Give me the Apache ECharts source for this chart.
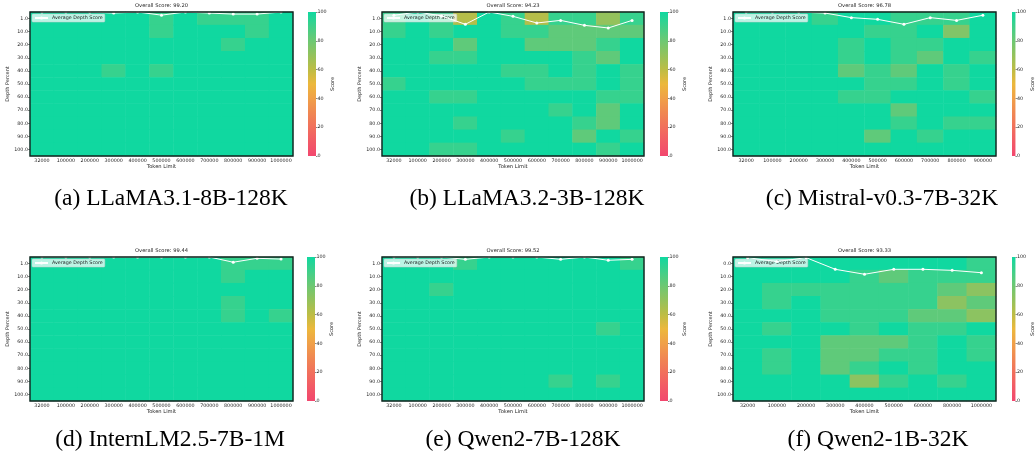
<!DOCTYPE html>
<html><head><meta charset="utf-8">
<script src="https://cdn.jsdelivr.net/npm/echarts@6/dist/echarts.min.js"></script>
<style>html,body{margin:0;padding:0;background:#fff}#c{width:1036px;height:454px}</style>
</head><body><div id="c"></div><script>
// ---------- DATA ----------
const tokens11 = ['32000','100000','200000','300000','400000','500000','600000','700000','800000','900000','1000000'];
const tokens10 = ['32000','100000','200000','300000','400000','500000','600000','700000','800000','900000'];
const tokens9  = ['32000','100000','200000','300000','400000','500000','600000','800000','1000000'];
const depth1   = ['1.0','10.0','20.0','30.0','40.0','50.0','60.0','70.0','80.0','90.0','100.0'];
const depth0   = ['0.0','10.0','20.0','30.0','40.0','50.0','60.0','70.0','80.0','90.0','100.0'];
const colorbarTicks = [0,20,40,60,80,100];

const scoresA = [
 [100,100,100,100,100,92,100,92,92,92,100],
 [100,100,100,100,100,92,100,100,100,92,100],
 [100,100,100,100,100,100,100,100,92,100,100],
 [100,100,100,100,100,100,100,100,100,100,100],
 [100,100,100,92,100,92,100,100,100,100,100],
 [100,100,100,100,100,100,100,100,100,100,100],
 [100,100,100,100,100,100,100,100,100,100,100],
 [100,100,100,100,100,100,100,100,100,100,100],
 [100,100,100,100,100,100,100,100,100,100,100],
 [100,100,100,100,100,100,100,100,100,100,100],
 [100,100,100,100,100,100,100,100,100,100,100]
];
const avgA = [100,100,100,99.2,100,97.6,100,99.2,98.4,98.4,100];

const scoresB = [
 [92,100,92,62,100,92,62,92,92,70,92],
 [92,100,92,100,100,92,92,83,83,83,83],
 [100,100,100,83,100,100,83,83,83,92,100],
 [100,100,92,92,100,100,100,100,92,83,100],
 [100,100,100,100,100,92,92,100,92,100,92],
 [92,100,100,100,100,100,92,92,92,100,92],
 [100,100,92,92,100,100,100,100,100,92,92],
 [100,100,100,100,100,100,100,92,100,83,100],
 [100,100,100,92,100,100,100,100,92,83,100],
 [100,100,100,100,100,92,100,100,83,100,92],
 [100,100,92,92,100,100,100,100,100,92,100]
];
const avgB = [97.5,100,97,90.6,100,96.7,91.6,93.6,89.8,87.8,93.6];

const scoresC = [
 [100,100,100,92,100,100,92,92,92,100],
 [100,100,100,100,100,92,92,100,75,100],
 [100,100,100,100,92,100,92,92,100,100],
 [100,100,100,100,92,100,92,83,100,92],
 [100,100,100,100,83,92,83,100,92,100],
 [100,100,100,100,100,92,92,100,92,100],
 [100,100,100,100,92,92,100,100,100,92],
 [100,100,100,100,100,100,83,100,100,100],
 [100,100,100,100,100,100,92,100,92,92],
 [100,100,100,100,100,83,100,92,100,100],
 [100,100,100,100,100,100,100,100,100,100]
];
const avgC = [100,100,100,99.2,95.7,94.4,90.6,95.7,93.6,97.5];

const scoresD = [
 [100,100,100,100,100,100,100,100,92,92,92],
 [100,100,100,100,100,100,100,100,92,100,100],
 [100,100,100,100,100,100,100,100,100,100,100],
 [100,100,100,100,100,100,100,100,92,100,100],
 [100,100,100,100,100,100,100,100,92,100,92],
 [100,100,100,100,100,100,100,100,100,100,100],
 [100,100,100,100,100,100,100,100,100,100,100],
 [100,100,100,100,100,100,100,100,100,100,100],
 [100,100,100,100,100,100,100,100,100,100,100],
 [100,100,100,100,100,100,100,100,100,100,100],
 [100,100,100,100,100,100,100,100,100,100,100]
];
const avgD = [100,100,100,100,100,100,100,100,96,99,98.4];

const scoresE = [
 [100,100,100,92,100,100,100,100,100,100,92],
 [100,100,100,100,100,100,100,100,100,100,100],
 [100,100,92,100,100,100,100,100,100,100,100],
 [100,100,100,100,100,100,100,100,100,100,100],
 [100,100,100,100,100,100,100,100,100,100,100],
 [100,100,100,100,100,100,100,100,100,92,100],
 [100,100,100,100,100,100,100,100,100,100,100],
 [100,100,100,100,100,100,100,100,100,100,100],
 [100,100,100,100,100,100,100,100,100,100,100],
 [100,100,100,100,100,100,100,92,100,92,100],
 [100,100,100,100,100,100,100,100,100,100,100]
];
const avgE = [100,100,100,98.2,100,100,100,98.2,100,97.5,98.2];

const scoresF = [
 [100,100,100,100,100,100,100,100,92],
 [100,100,100,100,92,83,92,92,92],
 [100,92,92,92,92,92,92,83,72],
 [100,92,100,92,92,92,92,72,83],
 [100,100,100,92,92,92,83,83,72],
 [100,92,100,100,92,100,92,92,100],
 [100,100,100,83,83,83,92,100,92],
 [100,92,100,83,83,92,92,100,92],
 [100,92,100,83,92,100,92,100,100],
 [100,100,100,100,72,92,100,92,100],
 [100,100,100,100,100,100,100,100,100]
];
const avgF = [99.5,96.5,99.5,90.6,86.8,90.6,90.6,89.8,88];

const overallScores = ['99.20','94.23','96.78','99.44','99.52','93.33'];
const captions = ['(a) LLaMA3.1-8B-128K','(b) LLaMA3.2-3B-128K','(c) Mistral-v0.3-7B-32K','(d) InternLM2.5-7B-1M','(e) Qwen2-7B-128K','(f) Qwen2-1B-32K'];
const cmap = ['#f2476e','#f25a66','#f1705c','#f08752','#f0a048','#ecb83c','#bdbd45','#94c25c','#6dc873','#3fd08a','#10d8a0'];

const panels = [
 {cols: tokens11, depth: depth1, scores: scoresA, avg: avgA},
 {cols: tokens11, depth: depth1, scores: scoresB, avg: avgB},
 {cols: tokens10, depth: depth1, scores: scoresC, avg: avgC},
 {cols: tokens11, depth: depth1, scores: scoresD, avg: avgD},
 {cols: tokens11, depth: depth1, scores: scoresE, avg: avgE},
 {cols: tokens9,  depth: depth0, scores: scoresF, avg: avgF}
];

// ---------- LAYOUT ----------
const layout = [
 {left:30,  top:12,  width:263, height:144, cb:308, cap:171, capTop:187},
 {left:382, top:12,  width:262, height:144, cb:660, cap:527, capTop:187},
 {left:733, top:12,  width:263, height:144, cb:1012, cap:882, capTop:187},
 {left:30,  top:257, width:263, height:144, cb:307, cap:170, capTop:428},
 {left:382, top:257, width:262, height:144, cb:660, cap:523, capTop:428},
 {left:733, top:257, width:263, height:144, cb:1012, cap:878, capTop:428}
];

const FONT = 'DejaVu Sans';
const TXT = '#1e1e1e';
const grid = [], xAxis = [], yAxis = [], series = [], title = [], legend = [];
const heatIdx = [];
const tick = {show:true, alignWithLabel:true, length:2, lineStyle:{color:'#333', width:0.6}};
const lab = {fontSize:4.8, color:TXT, fontFamily:FONT, margin:2};

panels.forEach((p, i) => {
  const L = layout[i];
  grid.push({left:L.left, top:L.top, width:L.width, height:L.height, show:true,
    borderColor:'#15201d', borderWidth:1.4, backgroundColor:'transparent', z:10});
  grid.push({left:L.cb, top:L.top, width:8, height:L.height, show:false});
  const g = i*2;
  const xi = xAxis.length, yi = yAxis.length;
  xAxis.push({type:'category', gridIndex:g, data:p.cols, axisLine:{show:false}, axisTick:tick,
    axisLabel:Object.assign({interval:0}, lab), name:'Token Limit', nameLocation:'middle', nameGap:8.5,
    nameTextStyle:{fontSize:5.2, color:TXT, fontFamily:FONT}, splitLine:{show:false}});
  yAxis.push({type:'category', gridIndex:g, data:p.depth, inverse:true, axisLine:{show:false}, axisTick:tick,
    axisLabel:Object.assign({interval:0}, lab), name:'Depth Percent', nameLocation:'middle', nameGap:16,
    nameTextStyle:{fontSize:5, color:TXT, fontFamily:FONT}, splitLine:{show:false}});
  xAxis.push({type:'category', gridIndex:g, data:p.cols, show:false, boundaryGap:true});
  yAxis.push({type:'value', gridIndex:g, min:-10, max:100, show:false});
  xAxis.push({type:'category', gridIndex:g+1, data:[''], show:false});
  yAxis.push({type:'value', gridIndex:g+1, min:0, max:100, interval:20, position:'right',
    axisLine:{show:false}, axisTick:{show:true, length:1.5, lineStyle:{color:'#333', width:0.6}},
    splitLine:{show:false}, axisLabel:{fontSize:4.8, color:TXT, fontFamily:FONT, margin:1.5,
      formatter: v => colorbarTicks.includes(v) ? String(v) : ''},
    name:'Score', nameLocation:'middle', nameRotate:90, nameGap:13,
    nameTextStyle:{fontSize:5, color:TXT, fontFamily:FONT}});

  const data = [];
  p.scores.forEach((row, r) => row.forEach((v, c) => data.push([c, r, v])));
  heatIdx.push(series.length);
  series.push({type:'heatmap', xAxisIndex:xi, yAxisIndex:yi, data, itemStyle:{borderWidth:0},
    emphasis:{disabled:true}, progressive:0, silent:true, z:2});
  series.push({type:'line', name:'Average Depth Score', xAxisIndex:xi+1, yAxisIndex:yi+1, data:p.avg,
    symbol:'circle', symbolSize:3, clip:false, silent:true, z:5,
    lineStyle:{color:'#ffffff', width:1}, itemStyle:{color:'#ffffff'}});
  series.push({type:'bar', xAxisIndex:xi+2, yAxisIndex:yi+2, data:[100], barWidth:'100%', silent:true,
    itemStyle:{color:new echarts.graphic.LinearGradient(0,0,0,1,
      cmap.slice().reverse().map((c, k) => ({offset:k/(cmap.length-1), color:c})))}});

  title.push({text:'Overall Score: ' + overallScores[i], left:L.left + L.width/2, top:L.top - 9,
    textAlign:'center', textStyle:{fontSize:5.2, fontWeight:'normal', color:TXT, fontFamily:FONT}, padding:0});
  title.push({text:captions[i], left:L.cap, top:L.capTop, textAlign:'center', padding:0,
    textStyle:{fontSize:23.5, fontWeight:'normal', color:'#000', fontFamily:'Liberation Serif'}});
  legend.push({data:['Average Depth Score'], left:L.left + 2, top:L.top + 2, orient:'horizontal',
    itemWidth:13, itemHeight:4, itemGap:2, padding:[1.5,2], selectedMode:false,
    backgroundColor:'rgba(255,255,255,0.72)', borderColor:'#cccccc', borderWidth:0.5, borderRadius:1,
    textStyle:{fontSize:4.8, color:TXT, fontFamily:FONT, padding:[0,0,0,-1]}});
});

const option = {
  animation:false,
  backgroundColor:'#ffffff',
  title, legend, grid, xAxis, yAxis, series,
  visualMap:{type:'continuous', show:false, min:0, max:100, seriesIndex:heatIdx, inRange:{color:cmap}}
};
const chart = echarts.init(document.getElementById('c'));
chart.setOption(option);
</script></body></html>
